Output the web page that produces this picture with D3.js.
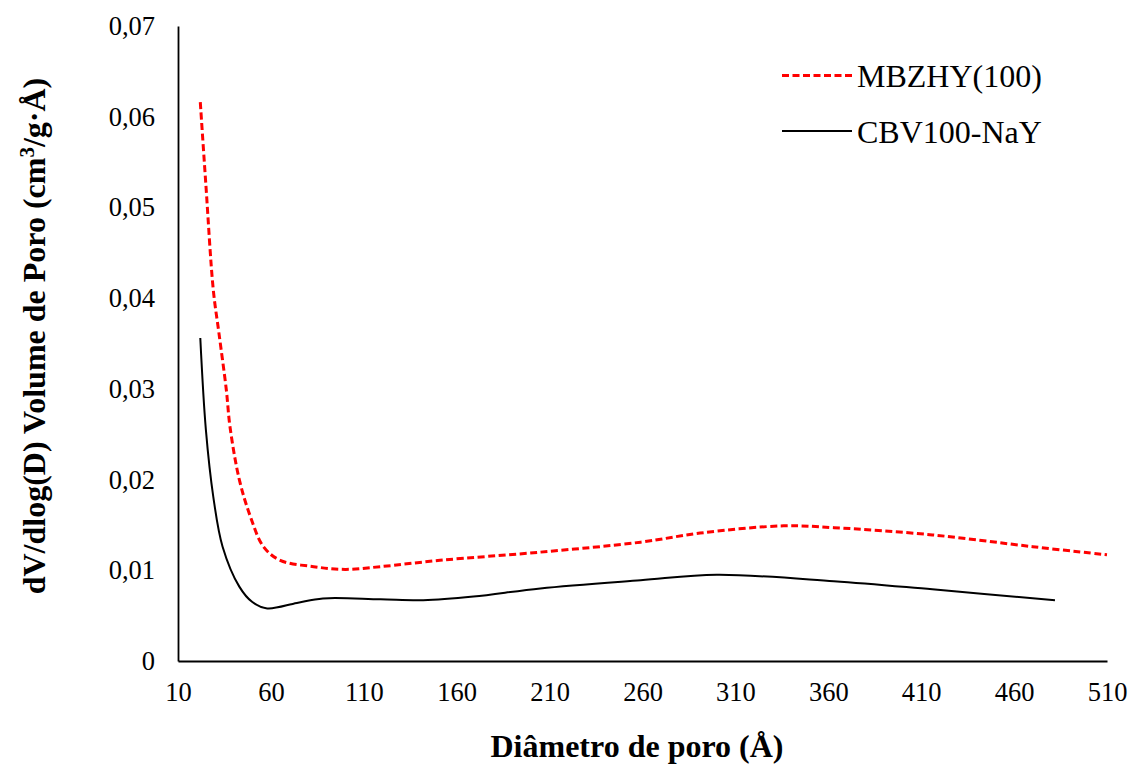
<!DOCTYPE html>
<html>
<head>
<meta charset="utf-8">
<script src="https://cdn.jsdelivr.net/npm/d3@7"></script>
<style>
body { margin: 0; background: #fff; }
text { font-family: "Liberation Serif", "Times New Roman", serif; }
</style>
</head>
<body>
<svg id="chart" width="1131" height="764"></svg>
<script>
const seriesNames = ["MBZHY(100)", "CBV100-NaY"];
const redX = [22, 25, 29, 32, 36, 38, 43, 49, 56, 65, 83, 100, 119, 151, 205, 259, 291, 336, 363, 416, 470, 510];
const redY = [0.0616, 0.0525, 0.0409, 0.0362, 0.0299, 0.0258, 0.0200, 0.0159, 0.0126, 0.0111, 0.0104, 0.0101, 0.0104, 0.0111, 0.0120, 0.0131, 0.0141, 0.0149, 0.0147, 0.0139, 0.0126, 0.0117];
const blackX = [22, 25, 29, 34, 43, 50, 58, 74, 88, 119, 142, 169, 205, 259, 300, 363, 416, 482];
const blackY = [0.0356, 0.0255, 0.0181, 0.0126, 0.0082, 0.0065, 0.0058, 0.0064, 0.0069, 0.0068, 0.0067, 0.0071, 0.0080, 0.0089, 0.0095, 0.0088, 0.0079, 0.0067];
const xTicks = [10, 60, 110, 160, 210, 260, 310, 360, 410, 460, 510];
const yTicks = [0, 0.01, 0.02, 0.03, 0.04, 0.05, 0.06, 0.07];

const svg = d3.select("#chart");
const L = 178, R = 1107, T = 26, B = 661;
const x = d3.scaleLinear().domain([10, 510]).range([L, R]);
const y = d3.scaleLinear().domain([0, 0.07]).range([B, T]);
const fmt = v => v === 0 ? "0" : d3.format(".2f")(v).replace(".", ",");

// axes
const xAxis = svg.append("g").attr("transform", `translate(0,${B})`)
  .call(d3.axisBottom(x).tickValues(xTicks).tickSize(0).tickPadding(22).tickFormat(d3.format("d")));
const yAxis = svg.append("g").attr("transform", `translate(${L},0)`)
  .call(d3.axisLeft(y).tickValues(yTicks).tickSize(0).tickPadding(23).tickFormat(fmt));
[xAxis, yAxis].forEach(a => {
  a.select(".domain").attr("stroke", "#000").attr("stroke-width", 1.8);
  a.selectAll("text").attr("font-size", 26.5).attr("fill", "#000");
});
xAxis.selectAll("text").attr("dy", "0.68em");

const line = d3.line().x(d => x(d[0])).y(d => y(d[1])).curve(d3.curveCatmullRom.alpha(0.5));
svg.append("path").datum(redX.map((v, i) => [v, redY[i]]))
  .attr("d", line).attr("fill", "none").attr("stroke", "#ff0000")
  .attr("stroke-width", 3).attr("stroke-dasharray", "7,3.5");
svg.append("path").datum(blackX.map((v, i) => [v, blackY[i]]))
  .attr("d", line).attr("fill", "none").attr("stroke", "#000")
  .attr("stroke-width", 2);

// legend
const leg = svg.append("g");
leg.append("line").attr("x1", 782).attr("x2", 852).attr("y1", 75.5).attr("y2", 75.5)
  .attr("stroke", "#ff0000").attr("stroke-width", 3).attr("stroke-dasharray", "7,3.5");
leg.append("text").attr("x", 857).attr("y", 76).attr("dy", "0.35em")
  .attr("font-size", 32).text(seriesNames[0]);
leg.append("line").attr("x1", 782).attr("x2", 852).attr("y1", 131).attr("y2", 131)
  .attr("stroke", "#000").attr("stroke-width", 2);
leg.append("text").attr("x", 857).attr("y", 132).attr("dy", "0.35em")
  .attr("font-size", 32).text(seriesNames[1]);

// titles
svg.append("text").attr("x", 637).attr("y", 757).attr("text-anchor", "middle")
  .attr("font-size", 32).attr("font-weight", "bold").text("Diâmetro de poro (Å)");
const yt = svg.append("text").attr("transform", `translate(45,336) rotate(-90)`)
  .attr("text-anchor", "middle").attr("font-size", 32).attr("font-weight", "bold");
yt.append("tspan").text("dV/dlog(D) Volume de Poro (cm");
yt.append("tspan").attr("font-size", 21).attr("dy", -11).text("3");
yt.append("tspan").attr("dy", 11).text("/g·Å)");
</script>
</body>
</html>
